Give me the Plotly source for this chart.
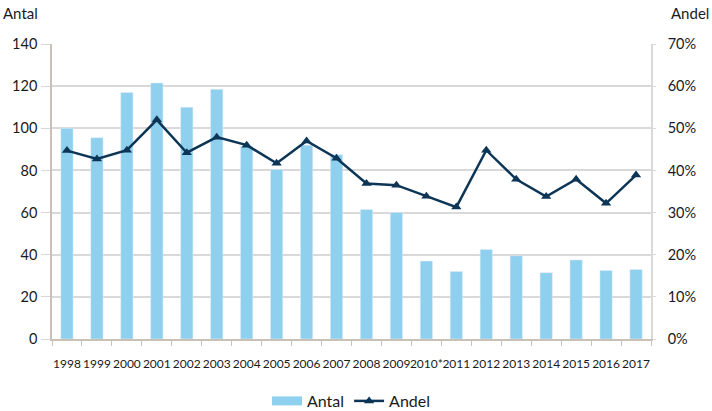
import plotly.graph_objects as go

years = ["1998", "1999", "2000", "2001", "2002", "2003", "2004", "2005", "2006", "2007",
         "2008", "2009", "2010*", "2011", "2012", "2013", "2014", "2015", "2016", "2017"]
antal = [100, 95.5, 117, 121.5, 110, 118.5, 91.5, 80.5, 92, 87.5,
         61.5, 60, 37, 32, 42.5, 39.5, 31.5, 37.5, 32.5, 33]
andel = [44.7, 42.7, 44.8, 52.0, 44.2, 47.9, 46.0, 41.7, 47.0, 42.9,
         36.9, 36.5, 33.9, 31.3, 44.8, 37.9, 33.8, 37.9, 32.2, 38.9]

FONT = "Lato"
BAR_COLOR = "#8fd0ef"
LINE_COLOR = "#0c3556"
PW, PH = 599, 295
fig = go.Figure()
fig.add_trace(go.Bar(x=years, y=antal, name="Antal", marker_color=BAR_COLOR,
                     yaxis="y", showlegend=False))
# legend entry drawn as a wide swatch like the original
fig.add_trace(go.Scatter(x=[None], y=[None], name="Antal", mode="lines",
                         line=dict(color=BAR_COLOR, width=9), yaxis="y"))
fig.add_trace(go.Scatter(x=years, y=andel, name="Andel", yaxis="y2",
                         mode="lines+markers",
                         line=dict(color=LINE_COLOR, width=2.5),
                         marker=dict(symbol="triangle-up", size=9, color=LINE_COLOR)))

fig.update_layout(
    width=712, height=411,
    margin=dict(l=52, r=61, t=44, b=72, autoexpand=False),
    paper_bgcolor="white", plot_bgcolor="white",
    font=dict(family=FONT, size=14, color="#1a1a1a"),
    bargap=0.59,
    showlegend=True,
    legend=dict(orientation="h", x=0.5, xanchor="center", y=-62 / PH, yanchor="middle",
                font=dict(size=16), traceorder="normal"),
    xaxis=dict(type="category", range=[-0.5, len(years) - 0.5], tickson="boundaries",
               ticks="outside", ticklen=5,
               tickcolor="#c9c0b6", showline=True, linecolor="#c9c0b6", linewidth=1.5,
               tickfont=dict(size=12), tickangle=0, showgrid=False,
               ticklabelstandoff=13, automargin=False),
    yaxis=dict(range=[0, 140], dtick=20, showgrid=True, gridcolor="#d9d9d9", gridwidth=1.5,
               showline=True, linecolor="#c9c0b6", linewidth=1.5, ticks="outside",
               ticklen=9, tickcolor="#d9d9d9", tickfont=dict(size=14.5),
               ticklabelstandoff=1, zeroline=False, automargin=False),
    yaxis2=dict(range=[0, 70], dtick=10, overlaying="y", side="right", showgrid=False,
                ticksuffix="%", showline=True, linecolor="#d9d9d9", linewidth=1.5,
                ticks="outside", ticklen=3, tickcolor="#d9d9d9", tickfont=dict(size=14.5),
                ticklabelstandoff=9, zeroline=False, automargin=False),
    annotations=[
        dict(text="Antal", xref="paper", yref="paper", x=-51 / PW, y=1 + 31 / PH,
             xanchor="left", yanchor="middle", showarrow=False, font=dict(size=15)),
        dict(text="Andel", xref="paper", yref="paper", x=1 + 60 / PW, y=1 + 31 / PH,
             xanchor="right", yanchor="middle", showarrow=False, font=dict(size=15)),
    ],
)

fig.write_html("out.html", config={"displayModeBar": False},
               post_script="document.body.style.margin='0';document.body.style.padding='0';")
